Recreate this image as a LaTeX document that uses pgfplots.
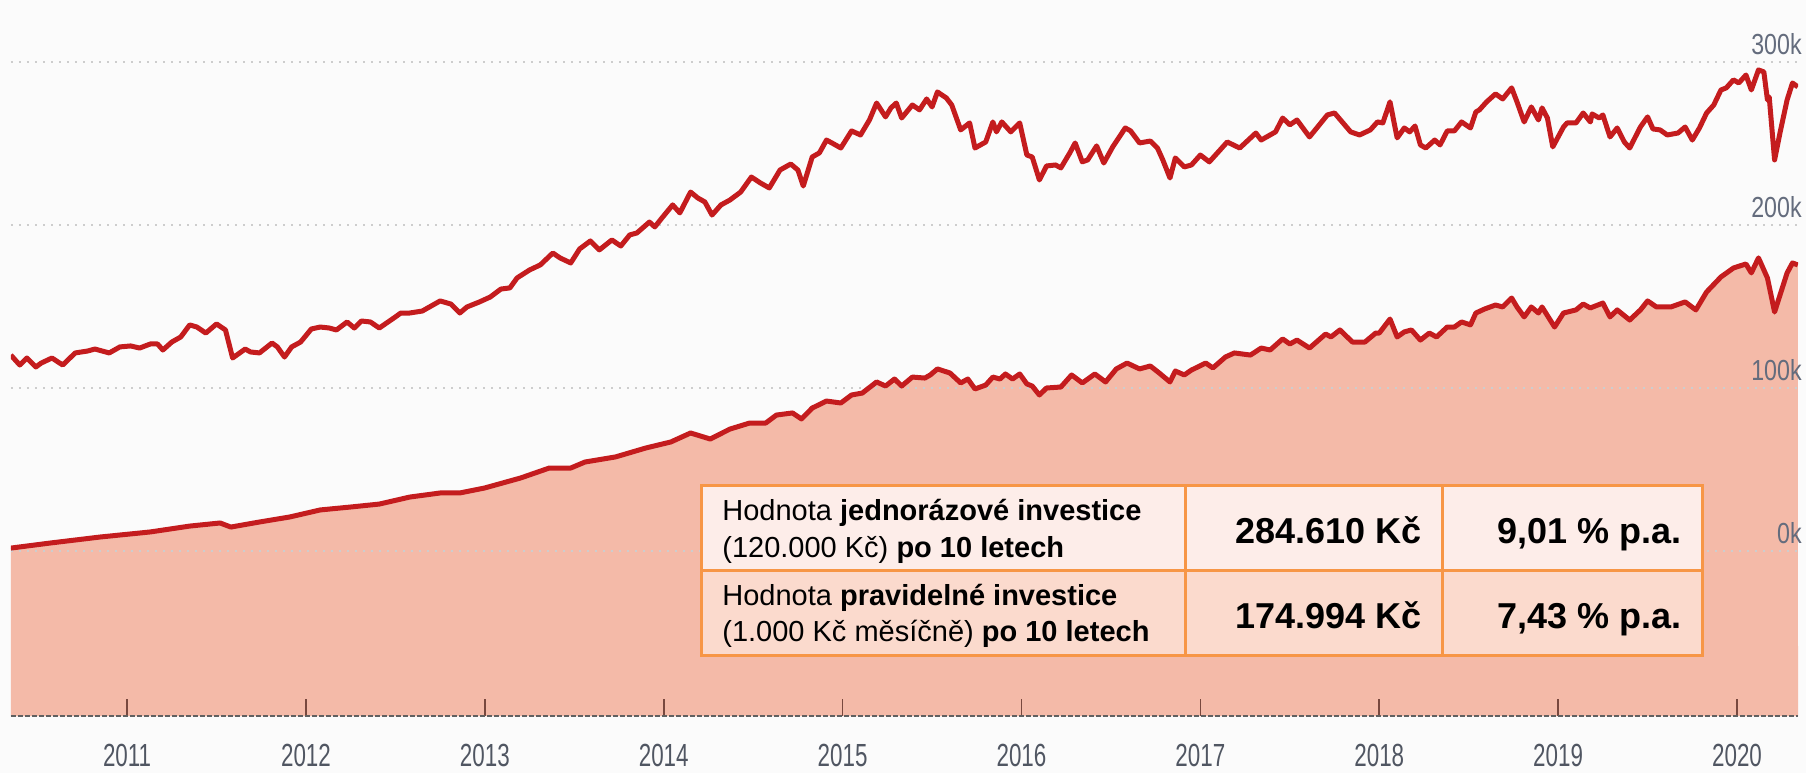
\documentclass[border=0pt]{standalone}
\usepackage{fontspec}
\setmainfont{Liberation Sans}
\usepackage{graphicx}
\usepackage{pgfplots}
\pgfplotsset{compat=1.18}
\usepackage{pgfplotstable}
\definecolor{linered}{RGB}{196,28,30}
\definecolor{areafill}{RGB}{244,186,168}
\definecolor{bgc}{RGB}{251,251,251}
\definecolor{gridc}{RGB}{205,205,205}
\definecolor{tickc}{RGB}{120,72,62}
\definecolor{xlab}{RGB}{80,86,98}
\definecolor{ylab}{RGB}{100,108,125}
\definecolor{tborder}{RGB}{247,150,70}
\definecolor{rowa}{RGB}{253,237,233}
\definecolor{rowb}{RGB}{251,218,205}
\newcommand{\nx}[1]{\scalebox{0.7}[1]{\fontsize{16}{16}\selectfont #1}}
\newcommand{\ny}[1]{\scalebox{0.8}[1]{\fontsize{14.5}{14.5}\selectfont #1}}

\pgfplotstableread{
x y
2010.35 120.2
2010.40 114.1
2010.44 118.4
2010.49 112.9
2010.52 115.3
2010.58 118.4
2010.64 114.1
2010.71 121.5
2010.78 122.7
2010.82 123.9
2010.90 121.5
2010.96 125.2
2011.02 125.8
2011.07 124.5
2011.13 127.0
2011.17 127.0
2011.20 123.3
2011.25 128.2
2011.30 131.3
2011.35 138.7
2011.39 137.4
2011.44 133.7
2011.50 139.3
2011.55 135.6
2011.59 118.4
2011.66 123.9
2011.69 122.1
2011.74 121.5
2011.81 127.6
2011.84 125.2
2011.88 119.0
2011.92 125.2
2011.97 128.2
2012.03 136.2
2012.08 137.4
2012.13 136.8
2012.17 135.6
2012.23 140.5
2012.27 136.8
2012.31 141.1
2012.36 140.5
2012.41 136.8
2012.50 143.6
2012.53 146.0
2012.58 146.0
2012.65 147.2
2012.75 153.4
2012.81 151.5
2012.86 146.0
2012.90 149.7
2012.97 152.8
2013.03 155.8
2013.09 160.7
2013.14 161.4
2013.18 167.5
2013.25 172.4
2013.31 175.5
2013.38 182.8
2013.42 179.8
2013.48 176.7
2013.53 185.3
2013.59 190.2
2013.64 184.7
2013.71 190.8
2013.76 187.1
2013.81 193.9
2013.85 195.1
2013.92 201.8
2013.95 198.8
2013.99 204.3
2014.05 212.3
2014.09 207.4
2014.15 220.2
2014.19 216.6
2014.23 214.1
2014.27 206.1
2014.32 212.3
2014.37 215.3
2014.43 220.2
2014.49 229.4
2014.54 225.8
2014.59 222.7
2014.65 233.7
2014.71 237.4
2014.75 233.7
2014.78 223.9
2014.83 241.7
2014.87 244.2
2014.91 252.1
2014.96 249.1
2014.99 247.2
2015.05 257.7
2015.10 255.2
2015.15 264.4
2015.19 274.8
2015.24 266.3
2015.27 271.8
2015.30 274.8
2015.33 265.6
2015.39 273.6
2015.43 270.6
2015.47 277.3
2015.50 272.4
2015.53 281.6
2015.58 277.9
2015.61 273.6
2015.66 258.3
2015.71 262.6
2015.74 247.2
2015.80 250.9
2015.84 263.2
2015.86 257.1
2015.89 263.2
2015.94 257.1
2015.99 262.6
2016.03 242.9
2016.06 241.7
2016.10 227.6
2016.14 236.2
2016.19 236.8
2016.22 235.0
2016.27 244.2
2016.30 250.3
2016.34 238.7
2016.37 239.9
2016.42 248.5
2016.46 238.0
2016.51 247.9
2016.58 259.5
2016.61 257.7
2016.66 250.3
2016.72 251.5
2016.76 247.2
2016.79 239.9
2016.83 228.8
2016.86 241.1
2016.91 235.6
2016.95 236.8
2017.00 242.9
2017.05 238.7
2017.11 246.0
2017.15 250.9
2017.22 247.2
2017.31 256.4
2017.34 252.1
2017.42 257.1
2017.46 265.6
2017.50 261.4
2017.54 264.4
2017.61 254.0
2017.71 267.5
2017.75 268.7
2017.84 257.1
2017.89 255.2
2017.95 258.3
2017.99 263.2
2018.02 262.6
2018.06 275.5
2018.10 253.4
2018.14 259.5
2018.17 257.1
2018.20 260.7
2018.23 249.1
2018.26 247.2
2018.31 252.1
2018.34 249.1
2018.38 257.7
2018.42 257.7
2018.46 263.2
2018.51 259.5
2018.54 269.3
2018.56 270.6
2018.60 275.5
2018.65 280.4
2018.69 277.3
2018.74 284.1
2018.77 275.5
2018.81 263.2
2018.85 272.4
2018.89 264.4
2018.91 271.8
2018.94 265.6
2018.97 247.9
2019.03 260.1
2019.05 262.6
2019.10 262.6
2019.14 268.7
2019.18 263.2
2019.19 268.1
2019.23 265.6
2019.25 267.5
2019.29 254.0
2019.33 259.5
2019.37 250.9
2019.40 247.2
2019.46 260.1
2019.50 266.3
2019.53 258.9
2019.57 258.3
2019.61 255.2
2019.67 256.4
2019.71 260.1
2019.75 252.1
2019.79 259.5
2019.83 268.7
2019.87 273.6
2019.91 282.8
2019.94 284.1
2019.98 289.0
2020.01 287.1
2020.05 292.0
2020.08 282.8
2020.12 295.1
2020.15 293.9
2020.17 276.7
2020.18 278.5
2020.21 239.9
2020.24 256.4
2020.28 276.7
2020.31 287.1
2020.34 284.7
}\updata

\pgfplotstableread{
x y
2010.35 1.8
2010.57 4.9
2010.85 8.6
2011.13 11.7
2011.35 15.3
2011.52 17.2
2011.58 14.7
2011.74 17.8
2011.91 20.9
2012.08 25.2
2012.25 27.0
2012.41 28.8
2012.58 33.1
2012.75 35.6
2012.86 35.6
2013.00 38.7
2013.20 44.8
2013.36 50.9
2013.48 50.9
2013.56 54.6
2013.73 57.7
2013.90 63.2
2014.04 66.9
2014.15 72.4
2014.26 68.7
2014.37 74.8
2014.48 78.5
2014.57 78.5
2014.63 83.4
2014.72 84.7
2014.77 81.0
2014.83 87.7
2014.91 92.0
2014.99 90.8
2015.05 95.7
2015.11 96.9
2015.19 103.7
2015.24 101.2
2015.29 105.5
2015.33 101.2
2015.39 106.7
2015.46 106.1
2015.49 108.0
2015.53 111.7
2015.60 109.2
2015.66 103.1
2015.70 105.5
2015.74 99.4
2015.80 101.8
2015.84 106.7
2015.88 105.5
2015.91 108.6
2015.95 105.5
2015.99 108.6
2016.03 102.5
2016.06 101.2
2016.10 95.7
2016.14 100.0
2016.22 100.6
2016.28 108.0
2016.34 103.1
2016.41 108.6
2016.47 103.7
2016.53 111.7
2016.59 115.3
2016.66 111.7
2016.72 113.5
2016.77 109.2
2016.83 103.7
2016.86 110.4
2016.91 108.0
2016.95 111.0
2017.03 115.3
2017.07 112.3
2017.14 119.0
2017.19 121.5
2017.28 120.2
2017.34 124.5
2017.39 123.3
2017.46 130.1
2017.50 127.0
2017.54 129.4
2017.61 124.5
2017.70 133.1
2017.73 131.3
2017.78 135.6
2017.85 128.2
2017.92 128.2
2017.98 133.7
2018.00 133.7
2018.06 142.3
2018.10 131.3
2018.14 134.4
2018.18 135.6
2018.23 129.4
2018.28 133.7
2018.32 131.3
2018.38 137.4
2018.42 137.4
2018.46 140.5
2018.51 138.7
2018.54 146.0
2018.59 148.5
2018.65 150.9
2018.69 149.7
2018.74 155.2
2018.77 149.7
2018.81 143.6
2018.85 149.7
2018.89 146.0
2018.91 149.7
2018.98 137.4
2019.03 146.0
2019.10 147.9
2019.14 151.5
2019.18 149.1
2019.25 152.1
2019.29 143.6
2019.33 147.9
2019.40 141.7
2019.46 147.9
2019.50 153.4
2019.55 149.7
2019.63 149.7
2019.71 152.8
2019.77 147.9
2019.83 158.9
2019.91 168.1
2019.98 173.6
2020.05 176.1
2020.08 170.6
2020.12 179.8
2020.17 167.5
2020.21 146.6
2020.28 170.6
2020.31 176.7
2020.34 175.5
}\lowdata

\begin{document}
\begin{tikzpicture}
\fill[bgc] (0,0) rectangle (903pt,386.5pt);
\begin{axis}[
  at={(5.5pt,28.5pt)}, anchor=south west,
  scale only axis, width=893.5pt, height=358pt,
  xmin=2010.351, xmax=2020.341, ymin=-101.2, ymax=338,
  axis x line*=bottom, axis y line*=right,
  x axis line style={-, draw=gray!75!black, dash pattern=on 2.5pt off 1pt, line width=1pt},
  y axis line style={draw=none},
  xtick={2011,2012,2013,2014,2015,2016,2017,2018,2019,2020},
  xticklabels={\nx{2011},\nx{2012},\nx{2013},\nx{2014},\nx{2015},\nx{2016},\nx{2017},\nx{2018},\nx{2019},\nx{2020}},
  xtick align=inside,
  xtick style={draw=tickc, line width=0.8pt},
  major tick length=8.5pt,
  xticklabel style={text=xlab, anchor=north, inner sep=0pt, yshift=-14pt},
  ytick={0,100,200,300},
  yticklabels={\ny{0k},\ny{100k},\ny{200k},\ny{300k}},
  ytick style={draw=none},
  yticklabel style={text=ylab, anchor=south east, inner sep=0pt, xshift=2pt, yshift=3.5pt},
  axis on top,
]
\addplot[fill=areafill, draw=none] table {\lowdata} -- (axis cs:2020.341,-101.2) -- (axis cs:2010.351,-101.2) -- cycle;
\draw[gridc, line width=1pt, dash pattern=on 1pt off 3pt] (axis cs:2010.351,0) -- (axis cs:2020.341,0);
\draw[gridc, line width=1pt, dash pattern=on 1pt off 3pt] (axis cs:2010.351,100) -- (axis cs:2020.341,100);
\draw[gridc, line width=1pt, dash pattern=on 1pt off 3pt] (axis cs:2010.351,200) -- (axis cs:2020.341,200);
\draw[gridc, line width=1pt, dash pattern=on 1pt off 3pt] (axis cs:2010.351,300) -- (axis cs:2020.341,300);
\addplot[linered, line width=2.5pt, line join=round, no markers] table {\updata};
\addplot[linered, line width=2.5pt, line join=round, no markers] table {\lowdata};
\end{axis}
\begin{scope}[x=0.5pt, y=-0.5pt, shift={(0,386.5pt)}]
\fill[rowa] (701,485) rectangle (1702,570);
\fill[rowb] (701,570) rectangle (1702,655);
\draw[tborder, line width=1.5pt] (701,485) rectangle (1702,655);
\draw[tborder, line width=1.5pt] (701,570) -- (1702,570) (1185,485) -- (1185,655) (1442,485) -- (1442,655);
\begin{scope}[every node/.style={inner sep=0pt, font=\fontsize{14.5}{18}\selectfont}]
\node[anchor=base west] at (722,520) {Hodnota \textbf{jednorázové investice}};
\node[anchor=base west] at (722,557) {(120.000 Kč) \textbf{po 10 letech}};
\node[anchor=base west] at (722,605) {Hodnota \textbf{pravidelné investice}};
\node[anchor=base west] at (722,641) {(1.000 Kč měsíčně) \textbf{po 10 letech}};
\end{scope}
\begin{scope}[every node/.style={inner sep=0pt, font=\fontsize{18}{22}\selectfont\bfseries}]
\node[anchor=base east] at (1422,543) {284.610 Kč};
\node[anchor=base east] at (1682,543) {9,01 \% p.a.};
\node[anchor=base east] at (1422,628) {174.994 Kč};
\node[anchor=base east] at (1682,628) {7,43 \% p.a.};
\end{scope}
\end{scope}
\pgfresetboundingbox
\path[use as bounding box] (0,0) rectangle (903pt,386.5pt);
\end{tikzpicture}
\end{document}
